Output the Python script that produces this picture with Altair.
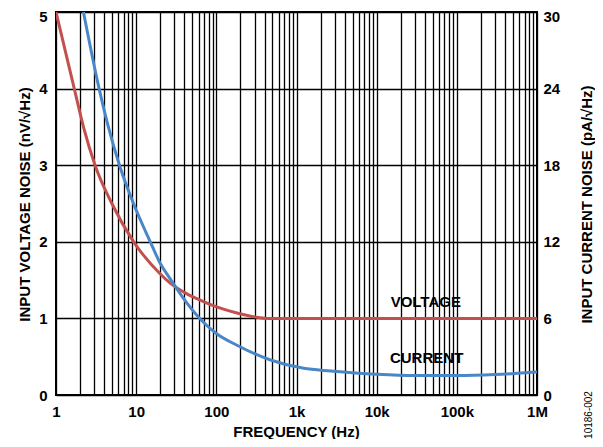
import altair as alt
import pandas as pd

# Voltage noise (nV/rtHz) vs frequency
freq_v = [1, 1.69, 2.2, 3.07, 4.97, 9.3, 20, 26.6, 43, 69, 101, 181, 300, 430, 1000, 10000, 100000, 1000000]
volt = [5.0, 4.0, 3.5, 3.0, 2.5, 2.0, 1.58, 1.46, 1.32, 1.22, 1.15, 1.07, 1.02, 1.0, 1.0, 1.0, 1.0, 1.0]

# Current noise (pA/rtHz) vs frequency
freq_i = [2.2, 3.45, 4.5, 6.19, 9.26, 15, 20, 26.6, 43, 69, 101, 181, 474, 1230, 2680,
          10000, 30000, 100000, 300000, 1000000]
curr = [30, 24.0, 21.0, 18.0, 15.0, 12.0, 10.3, 9.1, 7.2, 5.7, 4.8, 3.9, 2.74, 2.09, 1.88,
        1.62, 1.52, 1.52, 1.6, 1.8]

# Curve labels
label_names = ["VOLTAGE", "CURRENT"]
label_freq = [41000, 42000]
label_val = [1.21, 0.48]

# Axis ticks
x_ticks = [m * 10 ** d for d in range(6) for m in range(1, 10)] + [1000000]
x_tick_names = {1: "1", 10: "10", 100: "100", 1000: "1k", 10000: "10k", 100000: "100k", 1000000: "1M"}
left_ticks = [0, 1, 2, 3, 4, 5]
right_ticks = [0, 6, 12, 18, 24, 30]

FONT = "Liberation Sans"
RED = "#C4504D"
BLUE = "#4A87C7"

dv = pd.DataFrame({"f": freq_v, "v": volt})
di = pd.DataFrame({"f": freq_i, "i": curr})
dl = pd.DataFrame({"name": label_names, "f": label_freq, "v": label_val})

label_expr = " : ".join(
    [f"datum.value == {k} ? '{v}'" for k, v in x_tick_names.items()]
) + " : ''"

x_scale = alt.Scale(type="log", domain=[1, 1000000], nice=False)
x_axis = alt.Axis(
    values=x_ticks, grid=True, gridColor="black", gridOpacity=1, gridWidth=1.3,
    ticks=False, tickSize=0, domain=False, labelExpr=label_expr, labelOverlap=False,
    labelFlush=False, labelPadding=9, labelFontSize=15, labelFontWeight="bold",
    labelColor="black", labelFont=FONT,
    title="FREQUENCY (Hz)", titleFontSize=15, titleFontWeight="bold", titleFont=FONT,
    titleColor="black", titleX=240, titleY=44, titleBaseline="bottom", titleAlign="center",
)

left_axis = alt.Axis(
    values=left_ticks, grid=True, gridColor="black", gridOpacity=1, gridWidth=1.3,
    ticks=False, tickSize=0, domain=False, labelFlush=False, labelPadding=9,
    labelOffset={"condition": {"test": "datum.value === 5", "value": 4}, "value": 0},
    labelFontSize=15, labelFontWeight="bold", labelColor="black", labelFont=FONT,
    title="INPUT VOLTAGE NOISE (nV/√Hz)", titleFontSize=15, titleFontWeight="bold",
    titleFont=FONT, titleColor="black", titleAngle=270, titleX=-32, titleY=192,
    titleBaseline="middle", titleAlign="center",
)

right_axis = alt.Axis(
    orient="right", values=right_ticks, grid=False,
    ticks=False, tickSize=0, domain=False, labelFlush=False, labelPadding=6,
    labelOffset={"condition": {"test": "datum.value === 30", "value": 4}, "value": 0},
    labelFontSize=15, labelFontWeight="bold", labelColor="black", labelFont=FONT,
    title="INPUT CURRENT NOISE (pA/√Hz)", titleFontSize=15, titleFontWeight="bold",
    titleFont=FONT, titleColor="black", titleAngle=270, titleX=49, titleY=192,
    titleBaseline="middle", titleAlign="center",
)

v_scale = alt.Scale(domain=[0, 5], nice=False)

vline = alt.Chart(dv).mark_line(color=RED, strokeWidth=3, interpolate="monotone", clip=True).encode(
    x=alt.X("f:Q", scale=x_scale, axis=x_axis),
    y=alt.Y("v:Q", scale=v_scale, axis=left_axis),
)

labels = alt.Chart(dl).mark_text(
    font=FONT, fontSize=15, fontWeight="bold", color="black", baseline="middle", align="center"
).encode(
    x=alt.X("f:Q", scale=x_scale, axis=x_axis),
    y=alt.Y("v:Q", scale=v_scale, axis=left_axis),
    text="name:N",
)

left = alt.layer(vline, labels)

iline = alt.Chart(di).mark_line(color=BLUE, strokeWidth=3, interpolate="monotone", clip=True).encode(
    x=alt.X("f:Q", scale=x_scale, axis=x_axis),
    y=alt.Y("i:Q", scale=alt.Scale(domain=[0, 30], nice=False), axis=right_axis),
)

code = alt.Chart(pd.DataFrame({"t": ["10186-002"]})).mark_text(
    font=FONT, fontSize=10, color="black", angle=270, align="center", baseline="middle"
).encode(x=alt.value(533), y=alt.value(403), text="t:N")

chart = alt.layer(left, iline, code).resolve_scale(y="independent").properties(
    width=481, height=383,
    padding={"left": 48, "top": 4, "right": 58, "bottom": 44},
    autosize=alt.AutoSizeParams(type="none"),
).configure(font=FONT).configure_view(stroke="black", strokeWidth=2)

chart.save("out.html", embed_options={"renderer": "svg", "actions": False})
